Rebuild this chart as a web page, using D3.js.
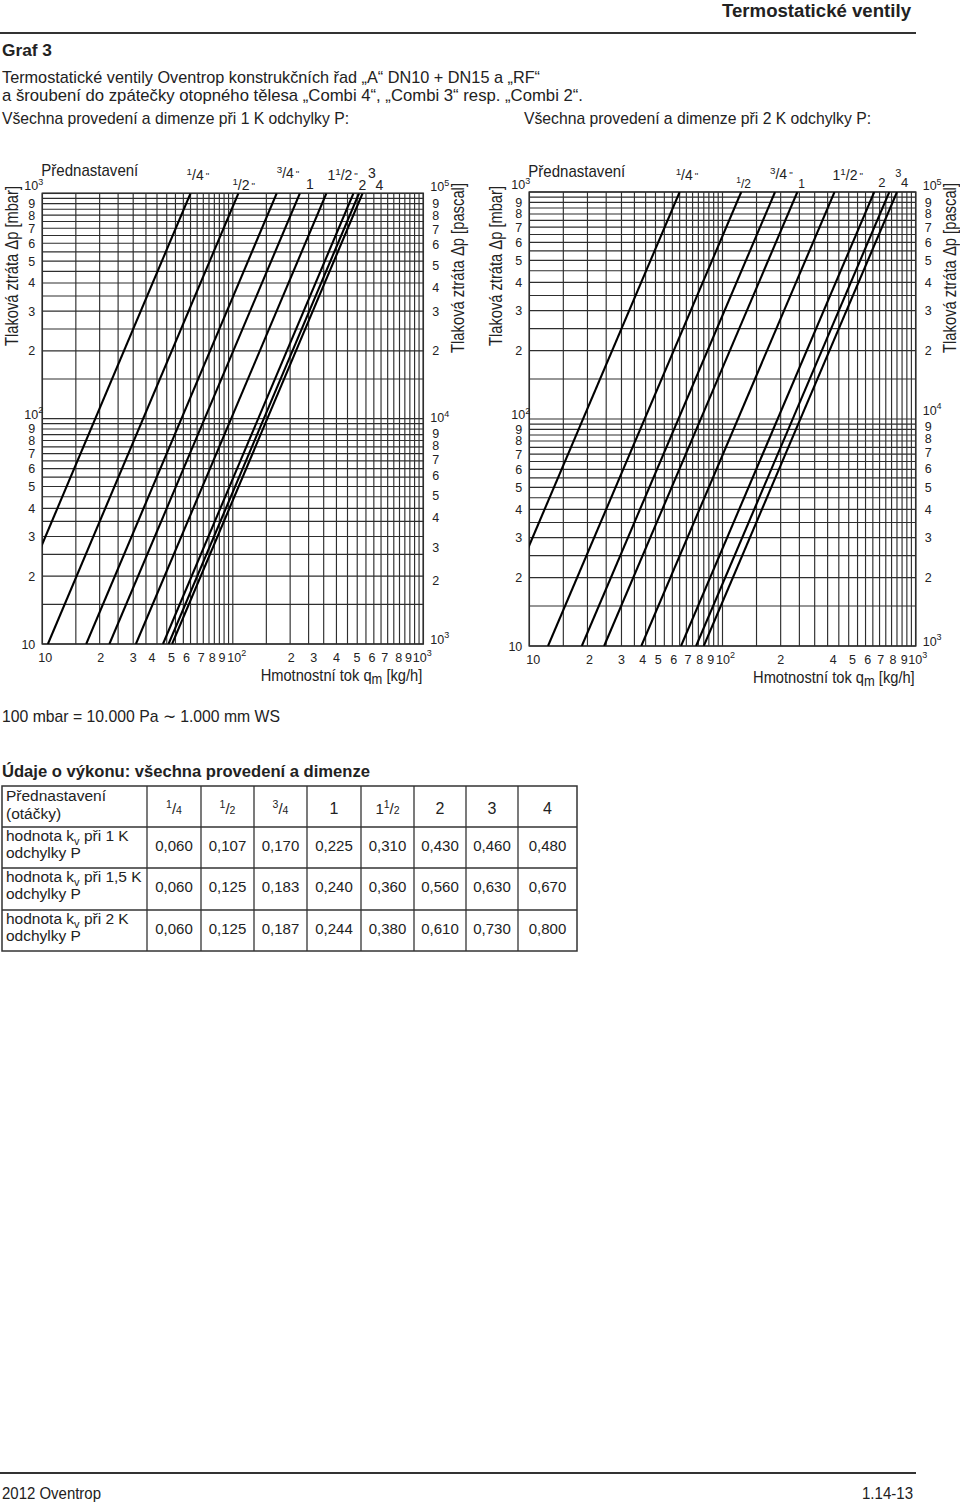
<!DOCTYPE html>
<html><head><meta charset="utf-8">
<script src="https://cdn.jsdelivr.net/npm/d3@7"></script>
<style>
body{margin:0;background:#fff}
svg{display:block}
text{font-family:"Liberation Sans",Arial,Helvetica,sans-serif;fill:#222}
</style>
</head><body>
<svg id="c" width="960" height="1504"></svg>
<script>
// ---------------- DATA ----------------
const presetLabels = ["1/4", "1/2", "3/4", "1", "1 1/2", "2", "3", "4"];
const kv1K  = ["0,060", "0,107", "0,170", "0,225", "0,310", "0,430", "0,460", "0,480"];
const kv15K = ["0,060", "0,125", "0,183", "0,240", "0,360", "0,560", "0,630", "0,670"];
const kv2K  = ["0,060", "0,125", "0,187", "0,244", "0,380", "0,610", "0,730", "0,800"];

// line end points: mass flow [kg/h] at Δp = 10 mbar and at Δp = 1000 mbar
const flowAt10mbar_1K   = [6, 10.7, 17, 22.5, 31, 43, 46, 48];
const flowAt1000mbar_1K = [60, 107, 170, 225, 310, 430, 460, 480];
const flowAt10mbar_2K   = [6, 12.5, 18.7, 24.4, 38, 61, 73, 80];
const flowAt1000mbar_2K = [60, 125, 187, 244, 380, 610, 730, 800];
const pressureEnds = [10, 1000];

const curveLabels1K = ["1/4\"", "1/2\"", "3/4\"", "1", "1 1/2\"", "2", "3", "4"];
const curveLabels2K = ["1/4\"", "1/2", "3/4\"", "1", "1 1/2\"", "2", "3", "4"];

const gridValues = [10, 15, 20, 25, 30, 35, 40, 45, 50, 55, 60, 65, 70, 75, 80, 85, 90, 95,
                    100, 150, 200, 250, 300, 350, 400, 450, 500, 550, 600, 650, 700, 750, 800, 850, 900, 950, 1000];

const xTickValues = [10, 20, 30, 40, 50, 60, 70, 80, 90, 100, 200, 300, 400, 500, 600, 700, 800, 900, 1000];
const xTickLabels1K = ["10", "2", "3", "4", "5", "6", "7", "8", "9", "10^2", "2", "3", "4", "5", "6", "7", "8", "9", "10^3"];
const xTickLabels2K = ["10", "2", "3", "4", "5", "6", "7", "8", "9", "10^2", "2", "", "4", "5", "6", "7", "8", "9", "10^3"];

const yTickValues = [10, 20, 30, 40, 50, 60, 70, 80, 90, 100, 200, 300, 400, 500, 600, 700, 800, 900, 1000];
const yTickLabelsMbar = ["10", "2", "3", "4", "5", "6", "7", "8", "9", "10^2", "2", "3", "4", "5", "6", "7", "8", "9", "10^3"];
const yTickLabelsPa   = ["10^3", "2", "3", "4", "5", "6", "7", "8", "9", "10^4", "2", "3", "4", "5", "6", "7", "8", "9", "10^5"];

// ---------------- LAYOUT (pixel nudges of labels, as placed in the original) ----------------
const xTickNudge1K = [3, 1, 0, -5, -4, -4, -2, -2, -2, 4, 1, -10, -11, -9, -9, -9, -6, -6, -1];
const xTickNudge2K = [4, 2, 0, -3, -6, -6, -4.5, -4, -3, 3, 0, 0, -5.5, -5, -5, -5, -4, -2.6, 2];
const rightTickNudge1K = [-1, 4, 11, 9, 9, 7, 6, 5.5, 5, 3, 0, 0, 5, 4, 1.6, 1.7, 0, 0, -2.5];
const rightTickNudge2K = [-1, 0, 0, 0, 0, -1, -2, -2, -3, -5, 0, 0, 0, 0, 0, 0, 0, 0, -2.5];

const GRID = "#2e2e2e";
const svg = d3.select("#c");
svg.append("rect").attr("width", 960).attr("height", 1504).attr("fill", "#fff");

function label(g, x, y, str, o = {}) {
  const t = g.append("text").attr("x", x).attr("y", y).text(str)
    .attr("font-size", o.size || 16)
    .attr("font-weight", o.weight || "normal")
    .attr("text-anchor", o.anchor || "start");
  if (o.width) t.attr("textLength", o.width).attr("lengthAdjust", "spacingAndGlyphs");
  if (o.fill) t.attr("fill", o.fill);
  return t;
}
function powerText(g, x, y, str, o = {}) {
  const size = o.size || 12;
  const t = g.append("text").attr("x", x).attr("y", y)
    .attr("font-size", size).attr("text-anchor", o.anchor || "start");
  const m = str.split("^");
  t.append("tspan").text(m[0]);
  if (m.length > 1) t.append("tspan").attr("font-size", size * 0.72).attr("dy", -size * 0.42).text(m[1]);
  return t;
}
function fractionText(g, x, y, str, o = {}) {
  const size = o.size || 13;
  const t = g.append("text").attr("x", x).attr("y", y).attr("font-size", size)
    .attr("text-anchor", o.anchor || "start");
  if (o.fill) t.attr("fill", o.fill);
  const inch = str.endsWith("\"");
  const s = inch ? str.slice(0, -1) : str;
  if (s.includes("/")) {
    const parts = s.split(" ");
    const frac = parts[parts.length - 1].split("/");
    if (parts.length > 1) t.append("tspan").text(parts[0]);
    t.append("tspan").attr("font-size", size * 0.7).attr("dy", -size * 0.38).text(frac[0]);
    t.append("tspan").attr("dy", size * 0.38).text("/");
    t.append("tspan").attr("font-size", o.denSmall ? size * 0.7 : size).text(frac[1]);
  } else {
    t.append("tspan").text(s);
  }
  if (inch) t.append("tspan").attr("font-size", size * 0.7).attr("dy", -size * 0.1).attr("dx", 2).text("\"");
  return t;
}

// ---------------- HEADER ----------------
label(svg, 911, 17, "Termostatické ventily", {size: 18, weight: "bold", anchor: "end", width: 189, fill: "#222"});
svg.append("line").attr("x1", 0).attr("x2", 916).attr("y1", 33).attr("y2", 33).attr("stroke", "#333").attr("stroke-width", 2.2);
label(svg, 2, 56, "Graf 3", {size: 17, weight: "bold", width: 50});
label(svg, 2, 83, "Termostatické ventily Oventrop konstrukčních řad \u201EA\u201C DN10 + DN15 a \u201ERF\u201C", {size: 17, width: 538});
label(svg, 2, 101, "a šroubení do zpátečky otopného tělesa \u201ECombi 4\u201C, \u201ECombi 3\u201C resp. \u201ECombi 2\u201C.", {size: 17, width: 581});
label(svg, 2, 124, "Všechna provedení a dimenze při 1 K odchylky P:", {size: 17, width: 347});
label(svg, 524, 124, "Všechna provedení a dimenze při 2 K odchylky P:", {size: 17, width: 347});

// ---------------- CHARTS ----------------
function drawChart(cfg) {
  const g = svg.append("g");
  const x = d3.scaleLog().domain([10, 1000]).range([cfg.x0, cfg.x1]);
  const y = d3.scaleLog().domain([10, 1000]).range([cfg.y1, cfg.y0]);

  g.selectAll(".vg").data(gridValues).join("line")
    .attr("x1", d => x(d)).attr("x2", d => x(d)).attr("y1", y(10)).attr("y2", y(1000))
    .attr("stroke", GRID).attr("stroke-width", 1.15);
  g.selectAll(".hg").data(gridValues).join("line")
    .attr("y1", d => y(d)).attr("y2", d => y(d)).attr("x1", x(10)).attr("x2", x(1000))
    .attr("stroke", GRID).attr("stroke-width", 1.15);
  g.append("rect").attr("x", x(10)).attr("y", y(1000)).attr("width", x(1000) - x(10)).attr("height", y(10) - y(1000))
    .attr("fill", "none").attr("stroke", GRID).attr("stroke-width", 1.5);

  const clipId = "clip" + cfg.id;
  svg.append("defs").append("clipPath").attr("id", clipId).append("rect")
    .attr("x", x(10)).attr("y", y(1000)).attr("width", x(1000) - x(10)).attr("height", y(10) - y(1000));
  const line = d3.line().x(d => x(d[0])).y(d => y(d[1]));
  const cg = g.append("g").attr("clip-path", `url(#${clipId})`);
  cfg.lo.forEach((q0, i) => {
    const pts = [[q0, pressureEnds[0]], [cfg.hi[i], pressureEnds[1]]];
    cg.append("path").attr("d", line(pts)).attr("fill", "none").attr("stroke", "#000").attr("stroke-width", 2.1);
  });

  cfg.curveLabels.forEach((s, i) => {
    const o = cfg.labelPos[i];
    fractionText(g, x(cfg.hi[i]) + o[0], o[1], s, {size: o[2] || 14, fill: "#111"});
  });

  label(g, cfg.x0 - 1, cfg.presetY, "Přednastavení", {size: 17, width: 97});

  yTickValues.forEach((v, i) => {
    const s = yTickLabelsMbar[i];
    if (s.includes("^")) powerText(g, cfg.x0 - 18, y(v) + (v === 1000 ? -3 : 0), s, {size: 12.5});
    else label(g, cfg.x0 - 7, y(v) + 4.5, s, {size: 12.5, anchor: "end"});
  });
  yTickValues.forEach((v, i) => {
    const s = yTickLabelsPa[i];
    const off = cfg.rightNudge[i];
    if (s.includes("^")) powerText(g, cfg.x1 + 7, y(v) + off + 0.5, s, {size: 12.5});
    else label(g, cfg.x1 + 9, y(v) + 4.5 + off, s, {size: 12.5});
  });
  xTickValues.forEach((v, i) => {
    const s = cfg.xLabels[i];
    if (!s) return;
    const dx = cfg.xNudge[i];
    if (s.includes("^")) powerText(g, x(v) + dx, cfg.y1 + 17.5, s, {size: 12.5, anchor: "middle"});
    else label(g, x(v) + dx, cfg.y1 + 17.5, s, {size: 12.5, anchor: "middle"});
  });
  const xg = g.append("g").attr("transform", `translate(${cfg.x1 - 1},${cfg.y1 + 37}) scale(0.89,1)`);
  const xt = xg.append("text").attr("x", 0).attr("y", 0).attr("font-size", 16.5).attr("text-anchor", "end");
  xt.append("tspan").text("Hmotnostní tok q");
  xt.append("tspan").attr("dy", 3).attr("font-size", 14.5).text("m");
  xt.append("tspan").attr("dy", -3).text(" [kg/h]");

  g.append("text").attr("transform", `translate(${cfg.titleL},${266}) rotate(-90)`)
    .attr("text-anchor", "middle").attr("font-size", 18).attr("textLength", 160).attr("lengthAdjust", "spacingAndGlyphs")
    .text("Tlaková ztráta Δp [mbar]");
  g.append("text").attr("transform", `translate(${cfg.titleR},${268}) rotate(-90)`)
    .attr("text-anchor", "middle").attr("font-size", 18).attr("textLength", 170).attr("lengthAdjust", "spacingAndGlyphs")
    .text("Tlaková ztráta Δp [pascal]");
}

drawChart({
  id: "L", x0: 42.3, x1: 423.3, y0: 193.3, y1: 644,
  lo: flowAt10mbar_1K, hi: flowAt1000mbar_1K, curveLabels: curveLabels1K,
  labelPos: [[-4, 180], [-6, 190], [0, 178], [6, 189], [1, 180], [5, 190], [9, 178], [13, 190]],
  xLabels: xTickLabels1K, xNudge: xTickNudge1K, rightNudge: rightTickNudge1K,
  presetY: 176, titleL: 18, titleR: 464
});
drawChart({
  id: "R", x0: 529.3, x1: 915.7, y0: 192, y1: 646,
  lo: flowAt10mbar_2K, hi: flowAt1000mbar_2K, curveLabels: curveLabels2K,
  labelPos: [[-4, 180], [-5, 188, 12], [-5, 179], [1, 188, 12], [-2, 180], [4, 187, 13], [6, 177, 11], [4, 187, 13]],
  xLabels: xTickLabels2K, xNudge: xTickNudge2K, rightNudge: rightTickNudge2K,
  presetY: 177, titleL: 502, titleR: 956
});

// ---------------- NOTE + TABLE ----------------
label(svg, 2, 722, "100 mbar = 10.000 Pa \u223C 1.000 mm WS", {size: 17, width: 278});
label(svg, 2, 777, "Údaje o výkonu: všechna provedení a dimenze", {size: 17, weight: "bold", width: 368});

const colEdges = [2, 147, 201, 254, 307, 361, 414, 466, 518, 577];
const rowEdges = [786, 827, 868, 910, 951];
const tg = svg.append("g");
tg.append("rect").attr("x", colEdges[0]).attr("y", rowEdges[0])
  .attr("width", colEdges[colEdges.length - 1] - colEdges[0]).attr("height", rowEdges[rowEdges.length - 1] - rowEdges[0])
  .attr("fill", "none").attr("stroke", "#333").attr("stroke-width", 1.5);
colEdges.slice(1, -1).forEach(cx => tg.append("line").attr("x1", cx).attr("x2", cx).attr("y1", rowEdges[0]).attr("y2", rowEdges[rowEdges.length - 1]).attr("stroke", "#333").attr("stroke-width", 1.3));
rowEdges.slice(1, -1).forEach(ry => tg.append("line").attr("y1", ry).attr("y2", ry).attr("x1", colEdges[0]).attr("x2", colEdges[colEdges.length - 1]).attr("stroke", "#333").attr("stroke-width", 1.3));

const colMid = i => (colEdges[i + 1] + colEdges[i + 2]) / 2;
label(tg, 6, 801, "Přednastavení", {size: 15.5});
label(tg, 6, 819, "(otáčky)", {size: 15.5});
presetLabels.forEach((p, i) => {
  if (p.includes("/")) fractionText(tg, colMid(i), 814, p, {size: 15, anchor: "middle", denSmall: true});
  else label(tg, colMid(i), 814, p, {size: 16, anchor: "middle"});
});
const kvRows = [["1 K", kv1K], ["1,5 K", kv15K], ["2 K", kv2K]];
kvRows.forEach((r, k) => {
  const top = rowEdges[k + 1];
  const t = tg.append("text").attr("x", 6).attr("y", top + 14).attr("font-size", 15.5);
  t.append("tspan").text("hodnota k");
  t.append("tspan").attr("font-size", 11).attr("dy", 4).text("v");
  t.append("tspan").attr("dy", -4).text(" při " + r[0]);
  label(tg, 6, top + 31, "odchylky P", {size: 15.5});
  r[1].forEach((v, i) => label(tg, colMid(i), top + 24, v, {size: 15, anchor: "middle"}));
});

// ---------------- FOOTER ----------------
svg.append("line").attr("x1", 0).attr("x2", 916).attr("y1", 1473).attr("y2", 1473).attr("stroke", "#333").attr("stroke-width", 2.2);
label(svg, 2, 1499, "2012 Oventrop", {size: 17, width: 99});
label(svg, 913, 1499, "1.14-13", {size: 17, anchor: "end", width: 51});
</script>
</body></html>
